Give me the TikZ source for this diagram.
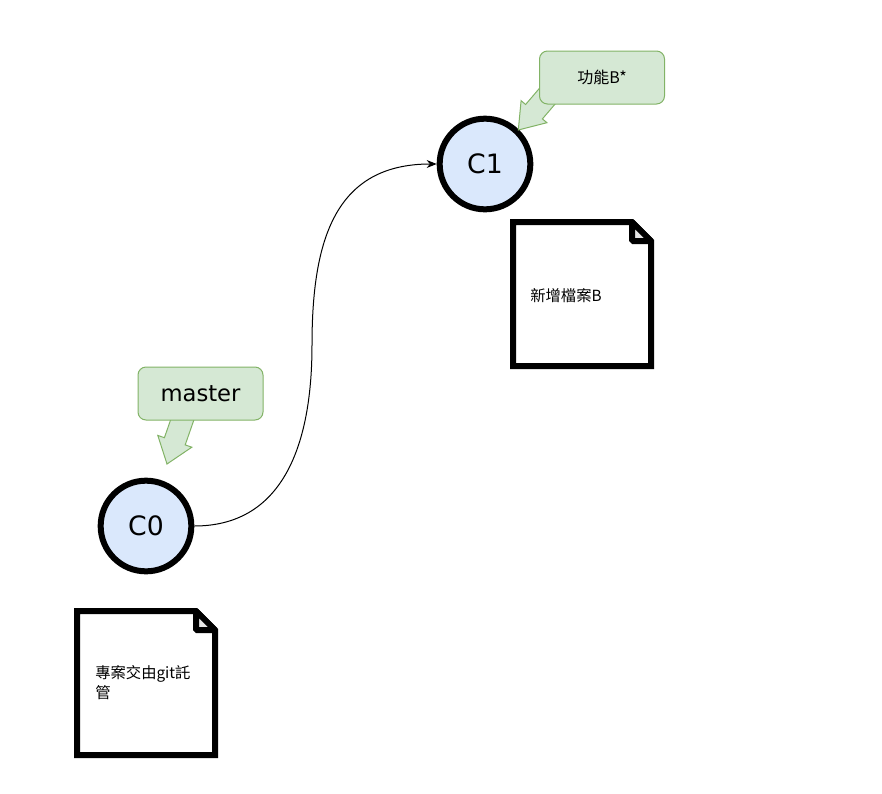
\documentclass[tikz,border=0pt]{standalone}
\usepackage{fontspec}
\newfontfamily\cjk{Noto Sans CJK TC}
\newfontfamily\hand{DejaVu Sans}
\usetikzlibrary{arrows.meta}
\definecolor{commitfill}{HTML}{DAE8FC}
\definecolor{zeigerfill}{HTML}{D5E8D4}
\definecolor{zeigerdraw}{HTML}{82B366}
\definecolor{knickfill}{HTML}{E6E6E6}
\tikzset{
	commit/.style={circle, draw=black, line width=4.5pt, fill=commitfill,
		minimum size=68pt, inner sep=0pt, font=\hand\fontsize{20}{24}\selectfont},
	zeiger/.style={rectangle, rounded corners=6pt, draw=zeigerdraw,
		line width=0.75pt, fill=zeigerfill, minimum width=93.75pt,
		minimum height=39.75pt, inner sep=0pt},
	zeigerpfeil/.style={draw=zeigerdraw, line width=0.75pt, fill=zeigerfill},
	datei/.style={draw=black, line width=4.5pt, fill=white, line join=miter},
	knick/.style={draw=black, line width=4.5pt, fill=knickfill, line join=bevel},
	dateitext/.style={anchor=west, align=left, inner sep=0pt,
		font=\cjk\fontsize{11.5}{15}\selectfont}
}
\begin{document}
\begin{tikzpicture}[x=0.75pt, y=-0.75pt]
	\useasboundingbox (0,0) rectangle (882,793);
	% Commits
	\node[commit] (c0) at (146,526) {C0};
	\node[commit] (c1) at (485,164) {C1};
	\coordinate (mitte) at (312,345);
	\draw[line width=0.75pt, -{Stealth[length=7.5pt, width=6pt]}] (c0)
	.. controls (280,526) and (312,450) .. (mitte)
	.. controls (312,240) and (335,164) .. (c1);

	% Zeiger (Pfeile zuerst, Kasten darueber)
	\filldraw[zeigerpfeil] (174.6,408.4) -- (164.4,437.7) -- (157.8,435.4) --
	(167,464) -- (191.8,447.2) -- (185.2,444.9) -- (195.4,415.6) -- cycle;
	\node[zeiger, font=\hand\fontsize{17}{20}\selectfont] (master) at (200.5,393.5)
	{master};
	\filldraw[zeigerpfeil] (545.1,81.7) -- (525.6,104.5) -- (521.1,100.7) --
	(518.3,130) -- (546.9,122.7) -- (542.4,118.9) -- (561.9,96.1) -- cycle;
	\node[zeiger, font=\cjk\fontsize{12}{14}\selectfont] (funktionb) at (602,77.5)
	{功能B*};

	% Dateien
	\draw[datei] (77,611) -- (196,611) -- (215,630) -- (215,755) -- (77,755) --
	cycle;
	\draw[knick] (196,611) -- (196,630) -- (215,630) -- cycle;
	\node[dateitext] (dateic0) at (95,683) {專案交由git託\\管};
	\draw[datei] (513,222) -- (632,222) -- (651,241) -- (651,366) -- (513,366) --
	cycle;
	\draw[knick] (632,222) -- (632,241) -- (651,241) -- cycle;
	\node[dateitext] (dateic1) at (530,296) {新增檔案B};
\end{tikzpicture}
\end{document}
